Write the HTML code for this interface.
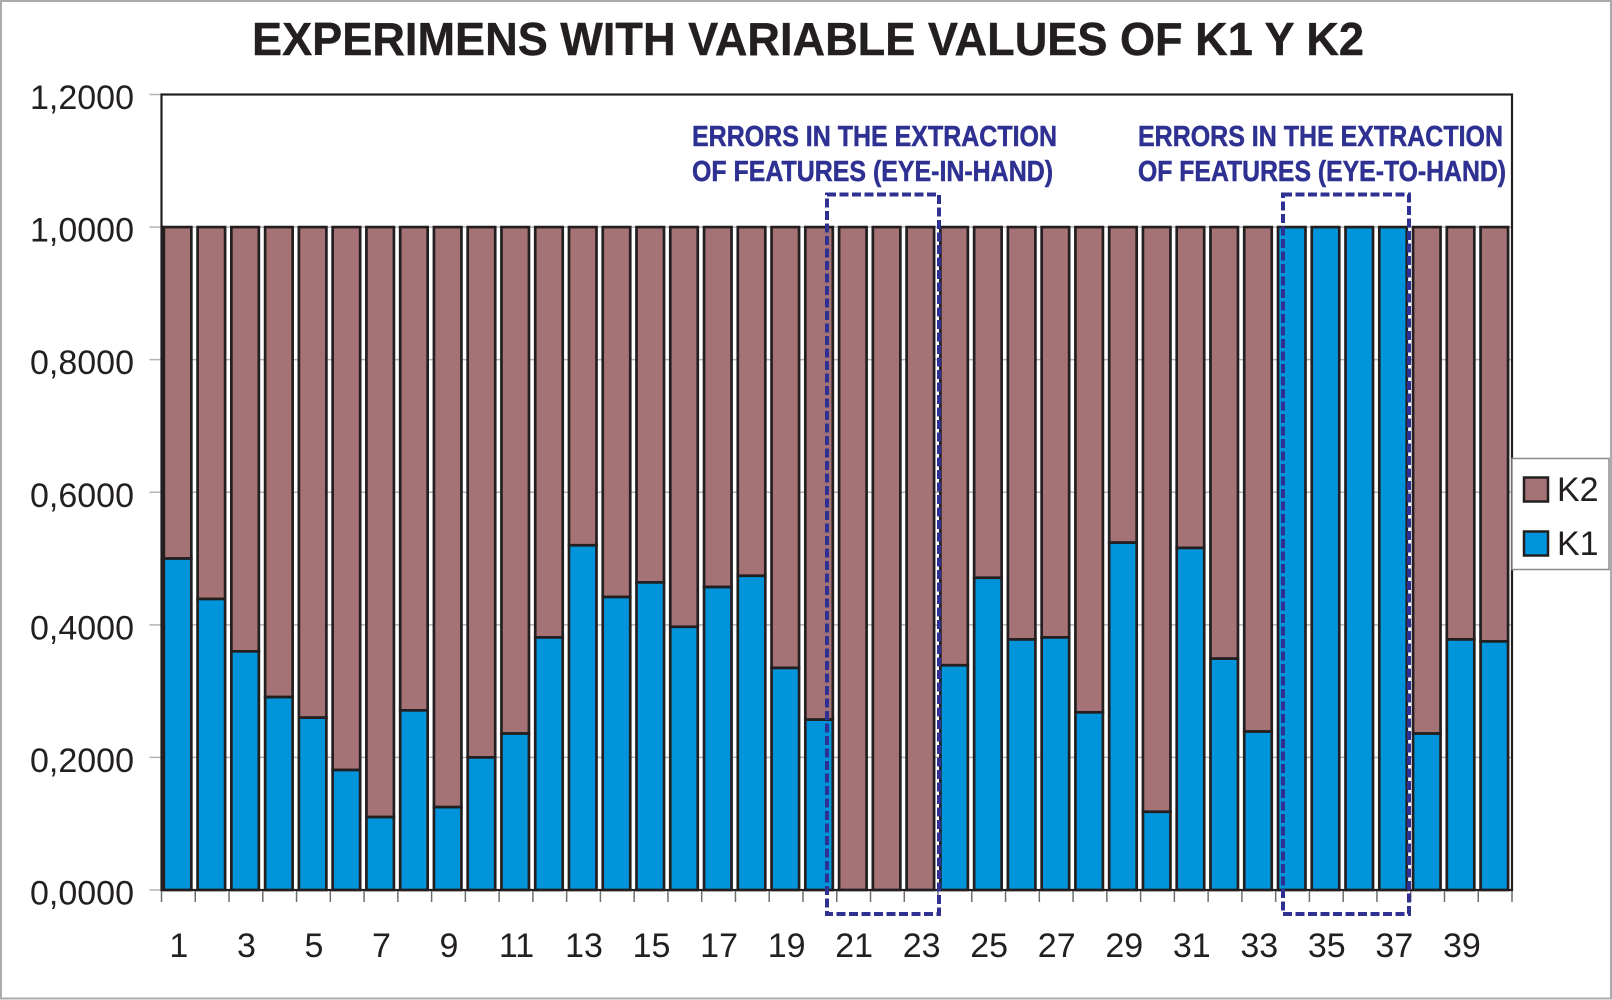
<!DOCTYPE html>
<html>
<head>
<meta charset="utf-8">
<title>Experimens with variable values of K1 y K2</title>
<style>
html,body{margin:0;padding:0;background:#fff;width:1612px;height:1000px;overflow:hidden}
svg{display:block}
text{font-family:"Liberation Sans",sans-serif;fill:#231f20}
.note{fill:#2e3192;stroke:#2e3192;stroke-width:0.5px}
</style>
</head>
<body>
<svg id="chart" width="1612" height="1000" viewBox="0 0 1612 1000" xmlns="http://www.w3.org/2000/svg">
  <rect x="1" y="1" width="1610" height="997.5" fill="#fff" stroke="#ababab" stroke-width="2"/>
  <text x="252" y="55" font-size="46" font-weight="700" textLength="1112" lengthAdjust="spacingAndGlyphs" stroke="#231f20" stroke-width="0.4">EXPERIMENS WITH VARIABLE VALUES OF K1 Y K2</text>
  <g id="grid"></g>
  <g id="bars"></g>
  <g id="axes"></g>
  <g id="ylabels"></g>
  <g id="xlabels"></g>

  <g>
    <text class="note" x="692" y="146" font-size="29" font-weight="700" textLength="365" lengthAdjust="spacingAndGlyphs">ERRORS IN THE EXTRACTION</text>
    <text class="note" x="692" y="181" font-size="29" font-weight="700" textLength="361" lengthAdjust="spacingAndGlyphs">OF FEATURES (EYE-IN-HAND)</text>
  </g>
  <g>
    <text class="note" x="1138" y="146" font-size="29" font-weight="700" textLength="365" lengthAdjust="spacingAndGlyphs">ERRORS IN THE EXTRACTION</text>
    <text class="note" x="1138" y="181" font-size="29" font-weight="700" textLength="368" lengthAdjust="spacingAndGlyphs">OF FEATURES (EYE-TO-HAND)</text>
  </g>
  <rect x="827" y="194.5" width="112" height="719.5" fill="none" stroke="#2e3192" stroke-width="4" stroke-dasharray="9 3.5"/>
  <rect x="1283" y="194.5" width="126" height="719.5" fill="none" stroke="#2e3192" stroke-width="4" stroke-dasharray="9 3.5"/>

  <g>
    <rect x="1512" y="458.5" width="97" height="111" fill="#fff" stroke="#8c8c8c" stroke-width="1.5"/>
    <rect x="1524" y="477.5" width="24" height="24" fill="#a57275" stroke="#231f20" stroke-width="2.5"/>
    <text x="1557" y="501" font-size="34">K2</text>
    <rect x="1524" y="531.5" width="24" height="24" fill="#0095da" stroke="#231f20" stroke-width="2.5"/>
    <text x="1557" y="555" font-size="34">K1</text>
  </g>
</svg>
<script>
var categories = [1,2,3,4,5,6,7,8,9,10,11,12,13,14,15,16,17,18,19,20,21,22,23,24,25,26,27,28,29,30,31,32,33,34,35,36,37,38,39,40];
var k1Values = [0.500,0.439,0.360,0.291,0.260,0.181,0.110,0.271,0.125,0.200,0.236,0.381,0.520,0.442,0.464,0.397,0.457,0.474,0.335,0.257,0,0,0,0.339,0.471,0.378,0.381,0.268,0.524,0.118,0.516,0.349,0.239,1,1,1,1,0.236,0.378,0.375];
var k2Values = [0.500,0.561,0.640,0.709,0.740,0.819,0.890,0.729,0.875,0.800,0.764,0.619,0.480,0.558,0.536,0.603,0.543,0.526,0.665,0.743,1,1,1,0.661,0.529,0.622,0.619,0.732,0.476,0.882,0.484,0.651,0.761,0,0,0,0,0.764,0.622,0.625];
var yTickValues = [0,0.2,0.4,0.6,0.8,1.0,1.2];
var yTickLabels = ["0,0000","0,2000","0,4000","0,6000","0,8000","1,0000","1,2000"];

var NS = "http://www.w3.org/2000/svg";
var plotLeft = 161.5, plotRight = 1512, plotBottom = 890, plotTop = 94.5;
var yMax = 1.2;
var step = (plotRight - plotLeft) / categories.length;
var barWidth = 27.5;

function yScale(v) { return plotBottom - (v / yMax) * (plotBottom - plotTop); }
function xScale(i) { return plotLeft + i * step; }
function make(tag, attrs) {
  var el = document.createElementNS(NS, tag);
  for (var k in attrs) el.setAttribute(k, attrs[k]);
  return el;
}

var gridG = document.getElementById("grid");
var axesG = document.getElementById("axes");
var barsG = document.getElementById("bars");
var yLabG = document.getElementById("ylabels");
var xLabG = document.getElementById("xlabels");

yTickValues.forEach(function (v, i) {
  var y = yScale(v);
  var g = make("line", {x1: 149.5, x2: plotRight, y1: y, y2: y, stroke: "#b3b3b3", "stroke-width": 1.5});
  
  
  gridG.appendChild(g);
  var t = make("text", {x: 134, y: y + 14.5, "font-size": 34, "text-anchor": "end"});
  
  
  t.textContent = yTickLabels[i];
  yLabG.appendChild(t);
});

categories.forEach(function (c, i) {
  var x = xScale(i) + (step - barWidth) / 2 - 0.8;
  var yK1 = yScale(k1Values[i]);
  var yK2 = yScale(k1Values[i] + k2Values[i]);
  var style = {x: x, width: barWidth, stroke: "#231f20", "stroke-width": 2.7};
  if (k2Values[i] > 0) {
    var r2 = make("rect", style);
    r2.setAttribute("y", yK2);
    r2.setAttribute("height", yK1 - yK2);
    r2.setAttribute("fill", "#a57275");
    
    
    barsG.appendChild(r2);
  }
  if (k1Values[i] > 0) {
    var r1 = make("rect", style);
    r1.setAttribute("y", yK1);
    r1.setAttribute("height", plotBottom - yK1);
    r1.setAttribute("fill", "#0095da");
    
    
    barsG.appendChild(r1);
  }
  if (i % 2 === 0) {
    var t = make("text", {x: xScale(i) + step / 2 + 0.5, y: 957, "font-size": 34, "text-anchor": "middle"});
    
    
    t.textContent = c;
    xLabG.appendChild(t);
  }
});

for (var i = 0; i <= categories.length; i++) {
  var tick = make("line", {x1: xScale(i), x2: xScale(i), y1: plotBottom, y2: 902, stroke: "#6d6d6d", "stroke-width": 1.5});
  
  
  axesG.appendChild(tick);
}
var border = make("rect", {x: plotLeft, y: plotTop, width: plotRight - plotLeft, height: plotBottom - plotTop, fill: "none", stroke: "#231f20", "stroke-width": 2.2});


axesG.appendChild(border);
</script>
</body>
</html>
